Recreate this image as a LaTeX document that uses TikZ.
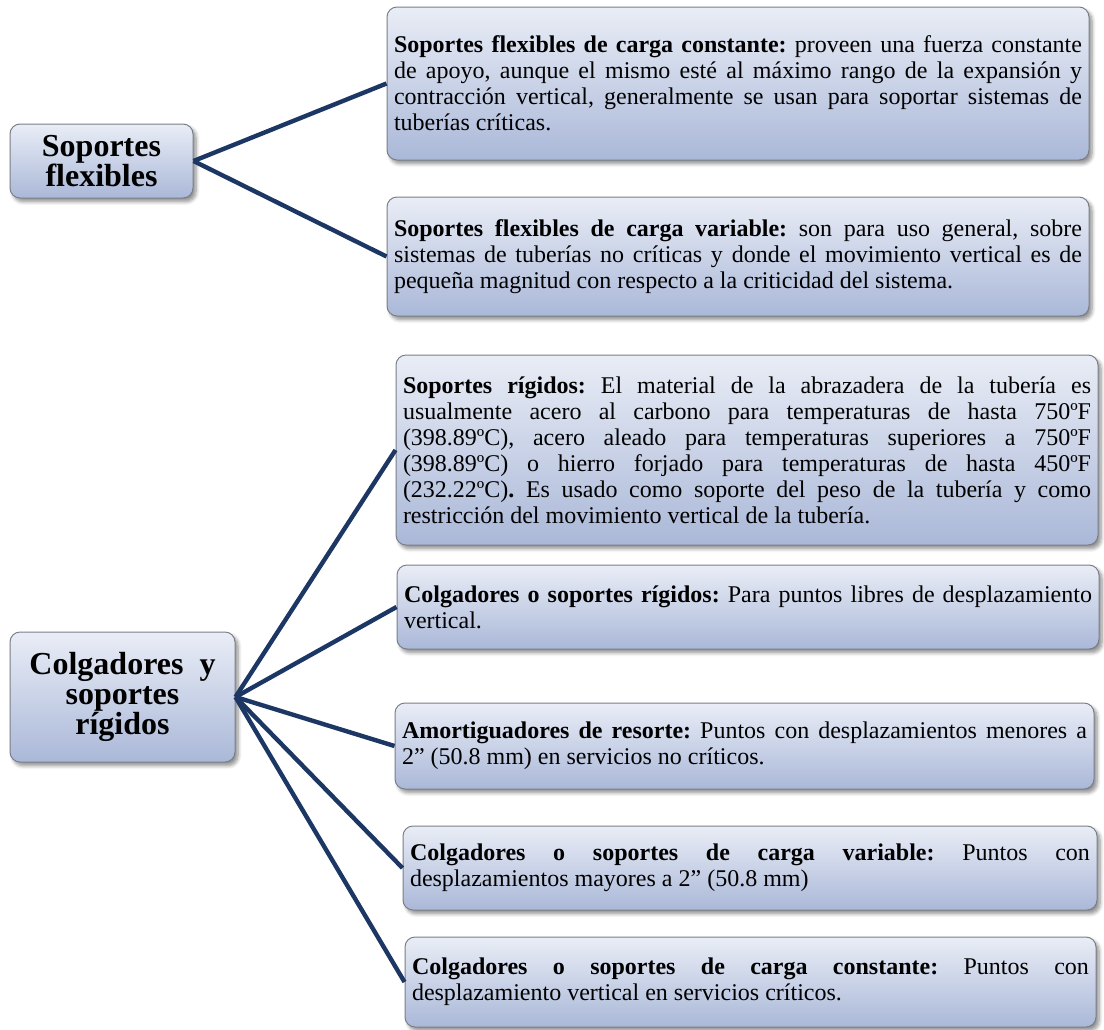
\documentclass[tikz,border=0pt]{standalone}
\usepackage{fontspec}
\setmainfont{Liberation Serif}
\usepackage{tikz}
\usetikzlibrary{shadows.blur}

\definecolor{boxtop}{HTML}{E9EDF6}
\definecolor{boxbot}{HTML}{AAB8D8}
\definecolor{boxline}{HTML}{7A7F88}
\definecolor{navy}{HTML}{1C3764}

\frenchspacing

\begin{document}
\begin{tikzpicture}[x=0.5pt, y=-0.5pt]
		\tikzstyle{card}=[rectangle, rounded corners=5pt, draw=boxline, line width=0.5pt,
			top color=boxtop, bottom color=boxbot,
			blur shadow={shadow xshift=1.5pt, shadow yshift=-1.8pt, shadow blur steps=6, shadow opacity=45}];
		\tikzstyle{head}=[card, align=center, inner sep=2pt,
			font=\fontsize{16}{15}\selectfont\bfseries];
		\tikzstyle{leaf}=[card, align=justify, inner xsep=3.5pt, inner ysep=2pt, text width=344pt,
			font=\fontsize{12}{13}\selectfont];
		\tikzstyle{branch}=[draw=navy, line width=2.2pt];

		\useasboundingbox (0,0) rectangle (1104,1029);

		\node[head, minimum width=91.5pt, minimum height=37pt] (flex) at (101.5,161)
			{Soportes\\flexibles};
		\node[head, minimum width=112.5pt, minimum height=65pt] (rig) at (122.5,697)
			{Colgadores~~y\\soportes\\rígidos};

		\node[leaf, minimum height=76.5pt] (cte) at (738,83.5)
			{\textbf{Soportes flexibles de carga constante:} proveen una fuerza constante\linebreak
			de apoyo, aunque el mismo esté al máximo rango de la expansión y\linebreak
			contracción vertical, generalmente se usan para soportar sistemas de\linebreak
			tuberías críticas.};
		\node[leaf, minimum height=59.5pt] (var) at (738,256.5)
			{\textbf{Soportes flexibles de carga variable:} son para uso general, sobre\linebreak
			sistemas de tuberías no críticas y donde el movimiento vertical es de\linebreak
			pequeña magnitud con respecto a la criticidad del sistema.};

		\node[leaf, minimum height=95pt] (sr) at (747,450)
			{\textbf{Soportes rígidos:} El material de la abrazadera de la tubería es\linebreak
			usualmente acero al carbono para temperaturas de hasta 750ºF\linebreak
			(398.89ºC), acero aleado para temperaturas superiores a 750ºF\linebreak
			(398.89ºC) o hierro forjado para temperaturas de hasta 450ºF\linebreak
			(232.22ºC)\textbf{.} Es usado como soporte del peso de la tubería y como\linebreak
			restricción del movimiento vertical de la tubería.};
		\node[leaf, text width=344pt, minimum height=42pt] (csr) at (748,607)
			{\textbf{Colgadores o soportes rígidos:} Para puntos libres de desplazamiento\linebreak
			vertical.};
		\node[leaf, text width=342.5pt, minimum height=43pt] (amo) at (744.5,746)
			{\textbf{Amortiguadores de resorte:} Puntos con desplazamientos menores a\linebreak
			2” (50.8 mm) en servicios no críticos.};
		\node[leaf, text width=340pt, minimum height=42pt] (cvar) at (750,868)
			{\textbf{Colgadores o soportes de carga variable:} Puntos con\linebreak
			desplazamientos mayores a 2” (50.8 mm)};
		\node[leaf, text width=338.5pt, minimum height=45pt] (ccte) at (750.5,982)
			{\textbf{Colgadores o soportes de carga constante:} Puntos con\linebreak
			desplazamiento vertical en servicios críticos.};

		\draw[branch] (flex.east) -- (cte.west);
		\draw[branch] (flex.east) -- (var.west);
		\draw[branch] (rig.east) -- (sr.west);
		\draw[branch] (rig.east) -- (csr.west);
		\draw[branch] (rig.east) -- (amo.west);
		\draw[branch] (rig.east) -- (cvar.west);
		\draw[branch] (rig.east) -- (ccte.west);
	\end{tikzpicture}
\end{document}
